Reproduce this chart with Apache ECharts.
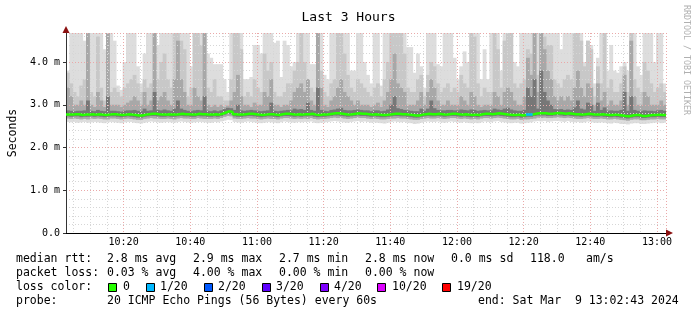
<!DOCTYPE html>
<html><head><meta charset="utf-8">
<script src="https://cdn.jsdelivr.net/npm/echarts@6/dist/echarts.min.js"></script>
<style>html,body{margin:0;padding:0;background:#fff}#c{width:697px;height:315px}</style>
</head><body><div id="c"></div>
<script>
// time: minutes after 10:00; first step starts 10:02:43, 180 one-minute steps
const startMin = 2 + 43 / 60;
const stepCount = 180;
const yTickValues = [0, 1, 2, 3, 4];
const yMax = 4.68;

// median rtt (ms) per step
const median = [
2.77,2.77,2.78,2.78,2.76,2.77,2.77,2.78,2.77,2.78,
2.77,2.76,2.77,2.78,2.78,2.77,2.76,2.77,2.78,2.77,
2.76,2.75,2.75,2.77,2.78,2.79,2.79,2.78,2.77,2.77,
2.78,2.77,2.77,2.78,2.79,2.78,2.78,2.77,2.77,2.79,
2.78,2.78,2.77,2.77,2.78,2.77,2.79,2.82,2.85,2.83,
2.78,2.77,2.77,2.78,2.79,2.79,2.78,2.77,2.76,2.77,
2.78,2.78,2.77,2.76,2.78,2.79,2.79,2.78,2.77,2.78,
2.77,2.78,2.78,2.79,2.77,2.76,2.77,2.77,2.78,2.79,
2.80,2.80,2.79,2.78,2.77,2.78,2.79,2.80,2.79,2.79,
2.78,2.77,2.78,2.77,2.76,2.76,2.77,2.78,2.79,2.79,
2.78,2.78,2.77,2.76,2.75,2.75,2.77,2.78,2.79,2.78,
2.78,2.79,2.78,2.77,2.78,2.79,2.79,2.78,2.77,2.78,
2.77,2.76,2.77,2.76,2.78,2.79,2.79,2.78,2.79,2.80,
2.79,2.78,2.77,2.76,2.76,2.77,2.75,2.76,2.77,2.77,
2.79,2.80,2.80,2.80,2.79,2.79,2.80,2.81,2.80,2.79,
2.80,2.79,2.78,2.78,2.77,2.78,2.79,2.78,2.77,2.77,
2.78,2.77,2.76,2.76,2.77,2.76,2.75,2.74,2.73,2.75,
2.76,2.76,2.74,2.74,2.75,2.76,2.76,2.77,2.76,2.76];

// steps with packet loss (index, lost pings out of 20)
const lossSteps = [138, 139];
const lossCounts = [1, 1];

// smoke: lowest ping per step
const smokeLow1 = [
2.60,2.59,2.60,2.58,2.59,2.60,2.58,2.59,2.60,2.59,
2.58,2.57,2.59,2.60,2.59,2.58,2.57,2.59,2.60,2.60,
2.58,2.57,2.56,2.58,2.60,2.61,2.60,2.59,2.58,2.59,
2.60,2.59,2.58,2.60,2.61,2.60,2.59,2.58,2.59,2.60,
2.60,2.59,2.58,2.58,2.60,2.59,2.61,2.63,2.65,2.64,
2.60,2.59,2.58,2.60,2.61,2.60,2.59,2.58,2.57,2.58,
2.60,2.59,2.58,2.57,2.59,2.61,2.60,2.59,2.58,2.60,
2.59,2.60,2.60,2.61,2.58,2.57,2.58,2.59,2.60,2.61,
2.62,2.61,2.60,2.59,2.58,2.60,2.61,2.62,2.60,2.61,
2.60,2.58,2.59,2.58,2.57,2.56,2.58,2.60,2.61,2.60,
2.59,2.60,2.58,2.57,2.55,2.56,2.58,2.60,2.61,2.60,
2.60,2.61,2.59,2.58,2.60,2.61,2.60,2.59,2.58,2.60,
2.58,2.57,2.58,2.57,2.59,2.61,2.60,2.59,2.61,2.62,
2.60,2.59,2.58,2.57,2.58,2.58,2.56,2.57,2.58,2.59,
2.61,2.62,2.61,2.62,2.60,2.61,2.62,2.62,2.61,2.60,
2.62,2.60,2.59,2.60,2.58,2.59,2.61,2.60,2.58,2.58,
2.59,2.58,2.57,2.56,2.58,2.57,2.55,2.55,2.54,2.56,
2.57,2.57,2.55,2.55,2.56,2.57,2.58,2.59,2.57,2.58];

// smoke: lower edge of the middle grey bands
const smokeLow2 = [
2.68,2.67,2.68,2.67,2.66,2.67,2.66,2.68,2.67,2.68,
2.67,2.66,2.66,2.68,2.68,2.67,2.66,2.67,2.68,2.67,
2.66,2.65,2.65,2.67,2.68,2.69,2.68,2.68,2.67,2.67,
2.68,2.67,2.66,2.68,2.69,2.68,2.68,2.67,2.67,2.69,
2.68,2.67,2.67,2.67,2.68,2.67,2.69,2.72,2.74,2.73,
2.68,2.67,2.67,2.68,2.69,2.68,2.68,2.67,2.66,2.67,
2.68,2.67,2.67,2.66,2.68,2.69,2.69,2.68,2.67,2.68,
2.67,2.68,2.67,2.69,2.67,2.66,2.67,2.67,2.68,2.69,
2.70,2.69,2.69,2.68,2.67,2.68,2.69,2.70,2.69,2.69,
2.68,2.67,2.68,2.67,2.66,2.66,2.67,2.68,2.68,2.69,
2.68,2.68,2.67,2.66,2.65,2.65,2.67,2.68,2.69,2.68,
2.68,2.69,2.68,2.67,2.68,2.69,2.69,2.68,2.67,2.68,
2.67,2.66,2.67,2.66,2.68,2.69,2.69,2.68,2.69,2.70,
2.69,2.68,2.67,2.66,2.66,2.67,2.65,2.66,2.66,2.67,
2.68,2.70,2.69,2.70,2.69,2.69,2.70,2.71,2.70,2.69,
2.70,2.69,2.68,2.67,2.67,2.68,2.69,2.68,2.67,2.67,
2.68,2.67,2.66,2.66,2.67,2.66,2.65,2.64,2.63,2.65,
2.66,2.66,2.64,2.64,2.65,2.66,2.66,2.67,2.66,2.66];

// smoke: lower edge of the dark band around the median
const smokeLow3 = [
2.73,2.72,2.73,2.73,2.71,2.72,2.72,2.73,2.72,2.73,
2.72,2.71,2.72,2.73,2.73,2.72,2.71,2.72,2.73,2.72,
2.71,2.70,2.70,2.72,2.73,2.74,2.74,2.73,2.72,2.72,
2.73,2.72,2.72,2.73,2.74,2.73,2.73,2.72,2.72,2.74,
2.73,2.73,2.72,2.72,2.73,2.72,2.74,2.77,2.80,2.78,
2.73,2.72,2.72,2.73,2.74,2.74,2.73,2.72,2.71,2.72,
2.73,2.73,2.72,2.71,2.73,2.74,2.74,2.73,2.72,2.73,
2.72,2.73,2.73,2.74,2.72,2.71,2.72,2.72,2.73,2.74,
2.75,2.75,2.74,2.73,2.72,2.73,2.74,2.75,2.74,2.74,
2.73,2.72,2.73,2.72,2.71,2.71,2.72,2.73,2.74,2.74,
2.73,2.73,2.72,2.71,2.70,2.70,2.72,2.73,2.74,2.73,
2.73,2.74,2.73,2.72,2.73,2.74,2.74,2.73,2.72,2.73,
2.72,2.71,2.72,2.71,2.73,2.74,2.74,2.73,2.74,2.75,
2.74,2.73,2.72,2.71,2.71,2.72,2.70,2.71,2.72,2.72,
2.74,2.75,2.75,2.75,2.74,2.74,2.75,2.76,2.75,2.74,
2.75,2.74,2.73,2.73,2.72,2.73,2.74,2.73,2.72,2.72,
2.73,2.72,2.71,2.71,2.72,2.71,2.70,2.69,2.68,2.70,
2.71,2.71,2.69,2.69,2.70,2.71,2.71,2.72,2.71,2.71];

// smoke: highest ping per step (lightest grey)
const smokeHigh1 = [
3.80,4.68,4.68,4.68,4.68,4.50,4.68,4.68,4.68,4.68,
4.68,4.30,4.68,4.68,4.50,3.45,3.35,4.00,4.68,4.68,
4.68,3.90,3.50,4.20,4.68,4.68,4.68,4.40,4.68,4.68,
4.68,4.68,4.68,4.68,4.68,4.68,4.68,3.90,4.68,4.68,
4.68,4.68,4.20,4.10,3.95,3.95,3.95,3.60,3.30,4.68,
4.68,4.68,4.68,3.60,3.60,3.65,4.40,4.40,4.20,4.68,
4.68,4.68,4.45,4.50,3.65,4.50,4.40,3.90,4.00,4.68,
4.68,4.68,4.68,3.95,3.95,4.68,4.68,3.70,3.60,4.68,
4.68,4.68,4.68,4.68,4.68,3.80,3.80,4.68,4.68,4.00,
3.70,3.50,4.68,4.68,3.45,4.68,4.68,4.68,4.68,4.68,
4.68,4.68,4.35,4.35,3.75,4.20,3.90,3.40,4.68,4.68,
4.68,3.95,3.90,4.68,4.68,4.68,4.10,3.60,3.90,4.25,
4.00,4.68,4.68,4.68,3.60,4.30,3.60,4.68,4.68,4.68,
3.80,4.68,4.68,4.68,4.00,3.90,4.68,4.68,4.68,4.68,
4.68,4.68,4.68,4.68,4.68,4.68,4.68,4.68,4.30,4.68,
4.68,4.68,4.68,4.68,4.68,4.00,4.50,4.40,3.50,4.10,
4.68,4.68,3.80,4.40,3.80,3.75,3.90,4.00,3.80,4.68,
4.68,3.90,3.70,4.68,4.68,4.68,4.00,4.68,4.68,3.50];

// smoke: second band upper edge
const smokeHigh2 = [
3.75,3.50,3.30,3.20,3.45,3.60,4.68,3.30,3.20,4.60,
3.40,3.10,4.68,3.30,3.40,3.30,3.20,3.40,3.50,3.60,
3.70,3.50,3.30,3.60,3.40,3.50,4.68,3.60,4.00,4.20,
3.60,3.40,4.68,4.68,4.50,4.30,3.20,3.40,4.68,4.68,
4.40,4.68,3.40,3.30,3.60,3.20,3.20,3.10,3.10,3.60,
4.68,4.68,4.30,3.20,3.30,3.20,3.60,3.40,3.30,4.20,
3.80,4.00,3.30,3.20,3.20,3.30,3.50,3.50,3.80,4.00,
4.68,4.00,3.60,3.40,3.30,4.68,3.80,3.30,3.20,3.50,
3.60,4.68,4.68,4.20,3.70,3.40,3.30,3.60,3.50,3.40,
3.30,3.20,3.40,3.50,3.20,3.60,4.00,4.68,4.68,4.68,
4.68,4.20,3.40,3.30,3.30,3.60,3.70,3.20,3.70,4.00,
3.90,3.50,3.30,3.40,3.50,3.30,3.40,3.30,3.70,3.50,
3.40,4.68,4.60,3.50,3.20,3.40,3.30,3.30,4.68,4.30,
3.40,4.50,4.68,4.68,3.50,3.40,3.50,3.60,4.30,4.20,
4.68,3.70,4.68,4.60,4.40,4.40,3.60,3.50,3.40,3.60,
3.70,3.60,4.68,4.68,4.50,3.90,4.50,4.30,3.20,3.90,
3.50,4.68,3.40,3.60,3.30,3.30,3.50,3.90,3.30,4.68,
3.60,3.40,3.30,4.00,3.80,3.50,3.30,3.40,3.50,3.30];

// smoke: third band upper edge
const smokeHigh3 = [
3.40,3.20,3.00,3.00,3.10,3.00,4.68,3.00,2.95,3.30,
3.10,2.95,4.68,3.00,3.00,3.00,2.95,3.00,3.05,3.10,
3.20,3.10,3.00,3.30,3.00,3.10,4.68,3.10,3.20,3.30,
3.10,3.00,3.60,4.50,3.60,3.30,3.00,3.00,3.40,3.20,
3.10,4.68,3.00,2.95,3.00,2.95,3.00,2.95,2.98,3.10,
3.30,3.70,3.20,3.00,3.00,2.95,3.05,3.00,3.00,3.30,
3.20,3.60,3.00,3.00,2.95,3.00,3.00,3.10,3.30,3.40,
3.50,3.30,3.60,3.10,3.00,4.68,3.40,3.00,2.95,3.10,
3.20,3.40,3.60,3.30,3.20,3.10,3.00,3.10,3.00,3.00,
3.00,2.95,3.00,3.05,2.95,3.10,3.30,3.60,4.20,3.50,
3.40,3.30,3.00,3.00,3.00,3.10,3.30,3.00,3.30,3.60,
3.40,3.10,3.00,3.00,3.10,3.00,3.00,3.00,3.20,3.10,
3.00,3.30,3.20,3.00,2.95,3.00,3.00,3.00,3.30,3.20,
3.00,3.30,3.40,3.30,3.10,3.00,3.00,3.20,4.10,3.70,
4.68,3.30,4.68,4.30,3.80,3.60,3.20,3.10,3.20,3.10,
3.20,3.10,3.40,3.80,3.40,3.20,3.50,3.40,3.00,3.50,
3.10,3.30,3.00,3.10,3.00,3.00,3.10,3.70,3.00,4.50,
3.20,3.00,3.00,3.30,3.20,3.00,3.00,3.00,3.10,3.00];

// smoke: dark band upper edge (pings just above the median)
const smokeHigh4 = [
2.87,2.86,2.85,2.86,2.86,2.87,3.10,2.86,2.85,2.88,
2.86,2.85,3.20,2.86,2.86,2.85,2.84,2.86,2.87,2.87,
2.88,2.86,2.85,2.91,2.86,2.87,3.30,2.88,2.87,2.89,
2.87,2.86,2.91,3.10,2.91,2.88,2.86,2.85,2.87,2.88,
2.87,3.20,2.86,2.85,2.87,2.85,2.87,2.90,2.93,2.92,
2.88,3.00,2.87,2.86,2.87,2.88,2.87,2.86,2.85,2.86,
2.87,3.05,2.86,2.85,2.86,2.87,2.88,2.87,2.91,2.89,
2.90,2.88,3.05,2.88,2.86,3.40,2.88,2.86,2.85,2.88,
2.89,2.91,2.93,2.88,2.87,2.87,2.88,2.89,2.88,2.87,
2.87,2.85,2.87,2.87,2.85,2.86,2.89,3.00,3.20,2.92,
2.90,2.88,2.87,2.86,2.85,2.85,2.91,2.86,2.91,3.10,
2.92,2.88,2.87,2.87,2.88,2.88,2.87,2.87,2.89,2.88,
2.87,2.89,2.88,2.86,2.87,2.88,2.87,2.87,2.91,2.89,
2.88,2.91,2.93,2.89,2.87,2.86,2.86,2.88,3.40,3.20,
3.60,2.91,3.80,3.30,3.10,3.00,2.90,2.89,2.90,2.88,
2.89,2.88,2.94,3.10,2.91,2.89,3.05,3.00,2.86,3.05,
2.88,2.94,2.86,2.87,2.86,2.86,2.88,3.30,2.86,3.20,
2.88,2.86,2.85,2.87,2.86,2.86,2.85,2.87,2.88,2.86];

const lossColors = {0: '#26ff00', 1: '#00b8ff', 2: '#0059ff', 3: '#5e00ff', 4: '#7e00ff', 10: '#dd00ff', 19: '#ff0000'};

const MONO = '"DejaVu Sans Mono", "Liberation Mono", monospace';

function smokeLayer(lo, hi, color, z) {
  return {
    type: 'custom', z: z, silent: true, clip: true,
    data: lo.map((v, i) => [startMin + i, v, hi[i]]),
    encode: {x: 0, y: [1, 2]},
    renderItem: function (params, api) {
      const x = api.value(0);
      const a = api.coord([x, api.value(2)]);
      const b = api.coord([x + 1, api.value(1)]);
      return {type: 'rect', shape: {x: a[0], y: a[1], width: b[0] - a[0] + 0.5, height: b[1] - a[1]},
        style: {fill: color}};
    }
  };
}

const lossAt = new Array(stepCount).fill(0);
lossSteps.forEach((s, i) => { lossAt[s] = lossCounts[i]; });

const greenData = median.map((v, i) => [startMin + i, v]);
greenData.push([startMin + stepCount, median[stepCount - 1]]);
const lossData = [];
for (let i = 0; i < stepCount; i++) {
  if (lossAt[i] > 0) {
    lossData.push([startMin + i, median[i]]);
    if (i + 1 >= stepCount || lossAt[i + 1] === 0) { lossData.push([startMin + i + 1, median[i]]); lossData.push(null); }
  }
}

function fmtTime(v) {
  const m = Math.round(v);
  const h = 10 + Math.floor(m / 60), mm = m % 60;
  return h + ':' + (mm < 10 ? '0' : '') + mm;
}

const legendFont = '11.5px ' + MONO;
function txt(x, y, s, extra) {
  return Object.assign({type: 'text', x: x, y: y, silent: true,
    style: {text: s, font: legendFont, fill: '#000', textVerticalAlign: 'middle'}}, extra || {});
}
const L1 = 259, L2 = 273, L3 = 287, L4 = 301;
const graphics = [
  txt(16, L1, 'median rtt:'), txt(107, L1, '2.8 ms avg'), txt(193, L1, '2.9 ms max'), txt(279, L1, '2.7 ms min'),
  txt(365, L1, '2.8 ms now'), txt(451, L1, '0.0 ms sd'), txt(530, L1, '118.0'), txt(586, L1, 'am/s'),
  txt(16, L2, 'packet loss:'), txt(107, L2, '0.03 % avg'), txt(193, L2, '4.00 % max'), txt(279, L2, '0.00 % min'),
  txt(365, L2, '0.00 % now'),
  txt(16, L3, 'loss color:'),
  txt(16, L4, 'probe:'), txt(107, L4, '20 ICMP Echo Pings (56 Bytes) every 60s'), txt(478, L4, 'end: Sat Mar  9 13:02:43 2024'),
  {type: 'text', x: 690, y: 5, rotation: -Math.PI / 2, silent: true,
    style: {text: 'RRDTOOL / TOBI OETIKER', font: '8.3px ' + MONO, fill: '#b0b0b0', textVerticalAlign: 'top'}},
  {type: 'polygon', shape: {points: [[62.5, 33], [69.5, 33], [66, 26]]}, style: {fill: '#8b1010'}, silent: true, z: 10},
  {type: 'polygon', shape: {points: [[666, 229.5], [666, 236.5], [673, 233]]}, style: {fill: '#8b1010'}, silent: true, z: 10}
];
const lossLegend = [['0', 0, 108, 123], ['1/20', 1, 146, 160], ['2/20', 2, 204, 218], ['3/20', 3, 262, 276],
  ['4/20', 4, 320, 334], ['10/20', 10, 377, 392], ['19/20', 19, 442, 457]];
lossLegend.forEach(([label, key, bx, tx]) => {
  graphics.push({type: 'rect', shape: {x: bx + 0.5, y: 283.5, width: 8, height: 8}, silent: true,
    style: {fill: lossColors[key], stroke: '#000', lineWidth: 1}});
  graphics.push(txt(tx, L3, label));
});

const chart = echarts.init(document.getElementById('c'), null, {renderer: 'canvas'});
chart.setOption({
  animation: false,
  backgroundColor: '#ffffff',
  title: {text: 'Last 3 Hours', left: 'center', top: 6,
    textStyle: {fontFamily: MONO, fontSize: 13, fontWeight: 'normal', color: '#000'}},
  grid: {left: 66, right: 31, top: 33, bottom: 82, containLabel: false, outerBoundsMode: 'none'},
  xAxis: {
    type: 'value', min: startMin, max: startMin + stepCount, splitNumber: 9, z: 3,
    axisLine: {lineStyle: {color: '#000', width: 1}},
    axisTick: {show: false},
    axisLabel: {formatter: fmtTime, showMinLabel: false, showMaxLabel: false, margin: 4,
      fontFamily: MONO, fontSize: 10, color: '#000'},
    splitLine: {show: true, lineStyle: {color: '#eaa8a8', type: [1, 2], width: 1}},
    minorTick: {show: false, splitNumber: 4},
    minorSplitLine: {show: true, lineStyle: {color: '#d6d6d6', type: [1, 2], width: 1}}
  },
  yAxis: {
    type: 'value', min: 0, max: yMax, interval: 1, z: 3,
    name: 'Seconds', nameLocation: 'middle', nameGap: 47, nameRotate: 90,
    nameTextStyle: {fontFamily: MONO, fontSize: 11.5, color: '#000'},
    axisLine: {show: true, lineStyle: {color: '#333', width: 1}},
    axisTick: {show: true, length: 3, lineStyle: {color: '#333'}},
    axisLabel: {formatter: v => (yTickValues.indexOf(v) < 0 ? '' : (v === 0 ? '0.0' : v.toFixed(1) + ' m')),
      showMaxLabel: false, margin: 6, fontFamily: MONO, fontSize: 10, color: '#000'},
    splitLine: {show: true, lineStyle: {color: '#eaa8a8', type: [1, 2], width: 1}},
    minorTick: {show: false, splitNumber: 5},
    minorSplitLine: {show: true, lineStyle: {color: '#d6d6d6', type: [1, 2], width: 1}}
  },
  series: [
    smokeLayer(smokeLow1, smokeHigh1, '#dddddd', 1),
    smokeLayer(smokeLow2, smokeHigh2, '#c8c8c8', 1),
    smokeLayer(smokeLow2, smokeHigh3, '#a8a8a8', 1),
    smokeLayer(smokeLow3, smokeHigh4, '#777777', 1),
    {type: 'line', data: greenData, step: 'end', symbol: 'none', z: 5, silent: true,
      lineStyle: {color: lossColors[0], width: 2.5}},
    {type: 'line', data: lossData, step: 'end', symbol: 'none', z: 6, silent: true, connectNulls: false,
      lineStyle: {color: lossColors[1], width: 2.5}}
  ],
  graphic: graphics
});
</script>
</body></html>
